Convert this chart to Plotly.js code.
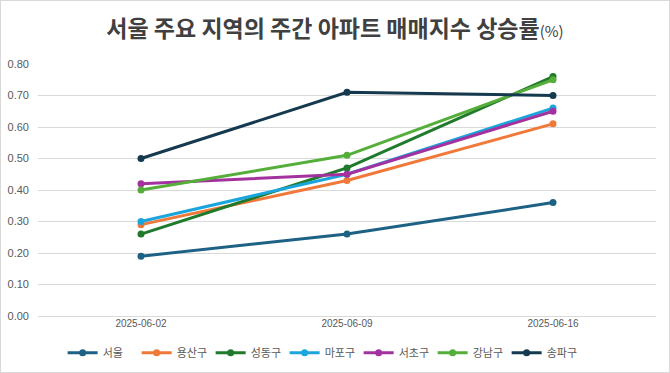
<!DOCTYPE html>
<html><head><meta charset="utf-8">
<script src="https://cdn.plot.ly/plotly-3.0.1.min.js"></script>
<style>
html,body{margin:0;padding:0;background:#fff;}
#chart{width:668px;height:371px;border:1px solid #d9d9d9;}
</style></head>
<body><div id="chart"></div>
<script>
const dates = ['2025-06-02', '2025-06-09', '2025-06-16'];
const seriesNames = ['서울', '용산구', '성동구', '마포구', '서초구', '강남구', '송파구'];
const seoul   = [0.19, 0.26, 0.36];
const yongsan = [0.29, 0.43, 0.61];
const seongdong = [0.26, 0.47, 0.76];
const mapo    = [0.30, 0.45, 0.66];
const seocho  = [0.42, 0.45, 0.65];
const gangnam = [0.40, 0.51, 0.75];
const songpa  = [0.50, 0.71, 0.70];
const yTicks = [0, 0.1, 0.2, 0.3, 0.4, 0.5, 0.6, 0.7, 0.8];

const values = [seoul, yongsan, seongdong, mapo, seocho, gangnam, songpa];
const colors = ['#1d6185', '#f0793a', '#1f7a2c', '#1aa5dd', '#a3329f', '#55ae3a', '#15394f'];

const traces = seriesNames.map((n, i) => ({
  type: 'scatter', mode: 'lines+markers', name: n,
  x: dates, y: values[i],
  line: {color: colors[i], width: 3},
  marker: {color: colors[i], size: 7},
  hoverinfo: 'skip'
}));

const layout = {
  width: 668, height: 371,
  margin: {l: 37, r: 13, t: 63, b: 56, autoexpand: false},
  paper_bgcolor: '#fff', plot_bgcolor: '#fff',
  font: {family: '"Noto Sans CJK KR", "Liberation Sans", sans-serif', color: '#595959'},
  title: {
    text: '<b>서울 주요 지역의 주간 아파트 매매지수 상승률</b><span style="font-size:15px">(%)</span>',
    font: {size: 23, color: '#404040', family: '"Noto Sans CJK KR", sans-serif'},
    x: 0.5, xanchor: 'center', xref: 'container', y: 0.925, yanchor: 'middle'
  },
  xaxis: {
    type: 'category', range: [-0.5, 2.5],
    showgrid: false, zeroline: false, showline: false, ticks: '',
    tickfont: {size: 10, color: '#595959', family: '"Liberation Sans", Arial, sans-serif'},
    fixedrange: true
  },
  yaxis: {
    range: [0, 0.8], tickvals: yTicks, tickformat: '.2f',
    showgrid: true, gridcolor: '#d9d9d9', gridwidth: 1,
    zeroline: true, zerolinecolor: '#d9d9d9', showline: false, ticks: '',
    tickfont: {size: 11, color: '#595959', family: '"Liberation Sans", Arial, sans-serif'},
    ticklabelstandoff: 8,
    fixedrange: true
  },
  legend: {
    orientation: 'h', x: 0.48, xanchor: 'center', xref: 'container',
    y: 0.052, yanchor: 'middle', yref: 'container',
    font: {size: 11, color: '#595959'}, entrywidth: 29, itemwidth: 30,
    traceorder: 'normal'
  },
  showlegend: true
};

Plotly.newPlot('chart', traces, layout, {displayModeBar: false, staticPlot: true});
</script></body></html>
